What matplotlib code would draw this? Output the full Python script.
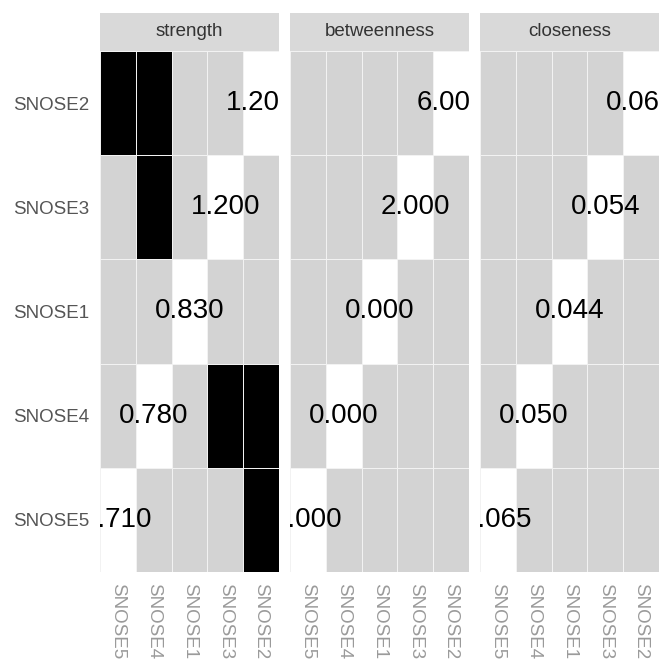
import matplotlib
matplotlib.use("Agg")
import matplotlib.pyplot as plt
import numpy as np
from matplotlib.colors import ListedColormap

plt.rcParams['font.family'] = ['Liberation Sans', 'DejaVu Sans']

nodes = ['SNOSE5', 'SNOSE4', 'SNOSE1', 'SNOSE3', 'SNOSE2']
measures = ['strength', 'betweenness', 'closeness']
strength = [0.710, 0.780, 0.830, 1.200, 1.200]
betweenness = [0.000, 0.000, 0.000, 2.000, 6.000]
closeness = [0.065, 0.050, 0.044, 0.054, 0.064]
values = {'strength': strength, 'betweenness': betweenness, 'closeness': closeness}
# significant differences (pairs of nodes)
sig_pairs = {
    'strength': [('SNOSE2', 'SNOSE5'), ('SNOSE2', 'SNOSE4'), ('SNOSE3', 'SNOSE4')],
    'betweenness': [],
    'closeness': [],
}

W, H = 660, 661
fig = plt.figure(figsize=(W / 100, H / 100), dpi=100)

panel_x = [100, 290, 480]
panel_w = 179
tile_top, tile_bot = 51, 572
strip_top = 13

cmap = ListedColormap(['#D3D3D3', '#000000', '#FFFFFF'])
n = len(nodes)
edges = np.arange(n + 1) - 0.5

for k, m in enumerate(measures):
    x0 = panel_x[k]
    ax = fig.add_axes([x0 / W, 1 - tile_bot / H, panel_w / W, (tile_bot - tile_top) / H])
    sax = fig.add_axes([x0 / W, 1 - tile_top / H, panel_w / W, (tile_top - strip_top) / H])

    code = np.zeros((n, n))
    for a, b in sig_pairs[m]:
        i, j = nodes.index(a), nodes.index(b)
        code[i, j] = 1
        code[j, i] = 1
    for i in range(n):
        code[i, i] = 2
    ax.pcolormesh(edges, edges, code, cmap=cmap, vmin=0, vmax=2,
                  edgecolors='#F2F2F2', linewidth=0.6)
    for i, v in enumerate(values[m]):
        ax.text(i, i, f"{v:.3f}", ha='center', va='center', fontsize=20,
                color='black', clip_on=True)
    ax.set_xlim(-0.5, n - 0.5)
    ax.set_ylim(-0.5, n - 0.5)
    ax.set_xticks(range(n))
    ax.set_xticklabels(nodes, rotation=-90, fontsize=13.5, color='#9A9A9A')
    ax.set_yticks(range(n))
    if k == 0:
        ax.set_yticklabels(nodes, fontsize=13.5, color='#555555')
    else:
        ax.set_yticklabels([])
    ax.tick_params(length=0, pad=8)
    for s in ax.spines.values():
        s.set_visible(False)

    sax.set_facecolor('#D9D9D9')
    sax.set_xticks([])
    sax.set_yticks([])
    for s in sax.spines.values():
        s.set_visible(False)
    sax.text(0.5, 0.5, m, ha='center', va='center', fontsize=13.5,
             color='#333333', transform=sax.transAxes)

fig.savefig('out.png', dpi=100, facecolor='white')
